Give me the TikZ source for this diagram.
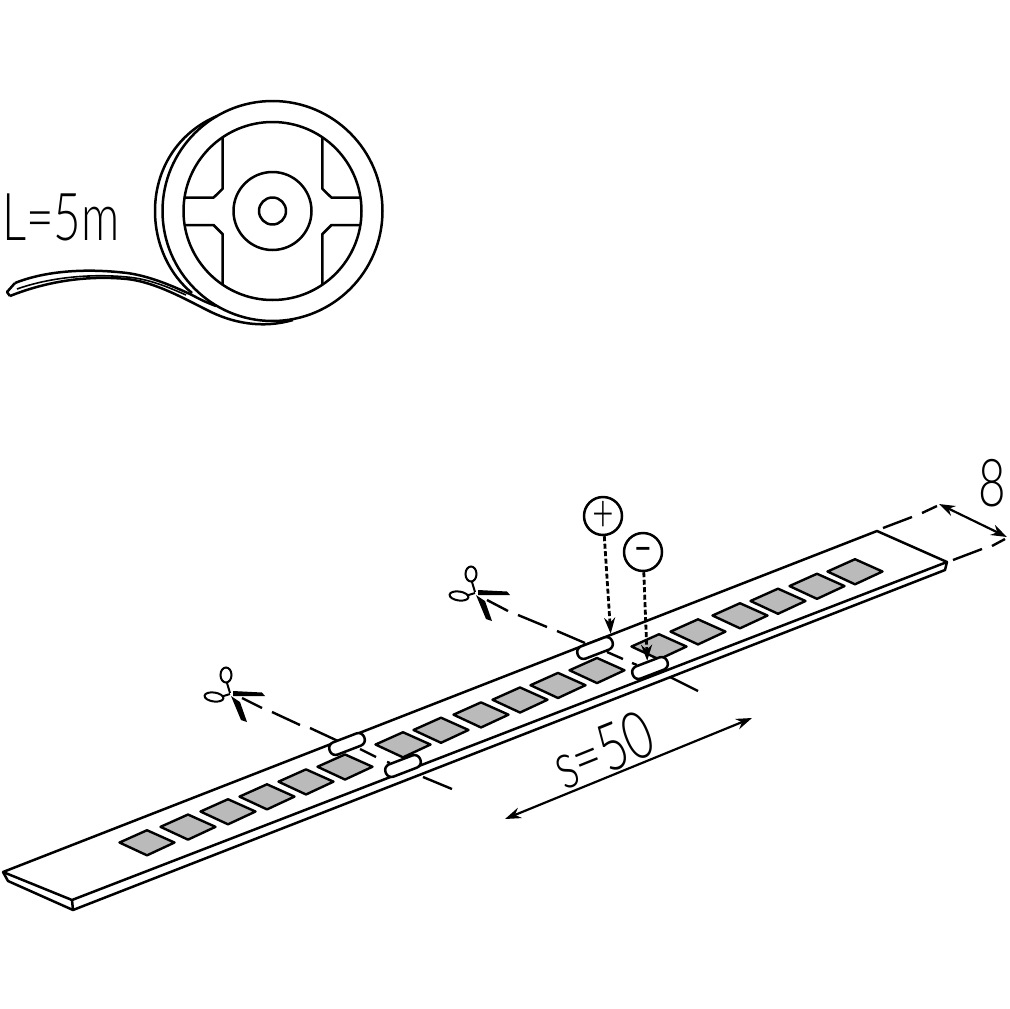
\documentclass[tikz,border=0pt]{standalone}
\usepackage{fontspec}
\setmainfont{Liberation Sans}
\newfontfamily\dimfont[UprightFont=* Light,FakeStretch=0.72]{Lato}
\usetikzlibrary{arrows.meta,positioning}
\tikzset{
  outline/.style={line width=2.5pt, line join=round},
  led/.style={line width=2.4pt, line join=round, fill=black!27},
  pad/.style={draw, line width=2.5pt, fill=white, rectangle, rounded corners=6pt, minimum width=37pt, minimum height=13pt, inner sep=0pt, rotate=21},
  polar/.style={draw, circle, line width=2.5pt, minimum size=38pt, inner sep=0pt},
  feed/.style={line width=2.8pt, dash pattern=on 5pt off 2.5pt, -{Stealth[length=16pt,width=11pt]}},
  cutline/.style={line width=2.4pt},
  dimline/.style={line width=2.2pt, {Stealth[length=16pt,width=11pt]}-{Stealth[length=16pt,width=11pt]}},
  dimtext/.style={inner sep=0pt, font=\dimfont\fontsize{66}{66}\selectfont},
  shears/.pic={
    \fill (3,-2) -- (32,-0.5) -- (35,3) -- (3,3) -- cycle;
    \fill (1,3) -- (10,9) -- (17,29) -- (11,27) -- cycle;
    \draw [line width=2pt] (0,0) -- (-3,-10);
    \draw [line width=2pt] (-4,-18) ellipse (5.5pt and 7.5pt);
    \draw [line width=2pt] (0,1) -- (-8,3.5);
    \draw [line width=2pt, rotate around={-8:(-16,4)}] (-16,4) ellipse (9.5pt and 4.5pt);
  }
}
\begin{document}
\begin{tikzpicture}[x=1pt,y=-1pt]
\useasboundingbox (0,0) rectangle (1009,1009);
% reel
\coordinate (hub) at (272.5,211);
\draw [outline] (hub) circle (110pt);
\draw [outline] (hub) circle (89pt);
\draw [outline] (hub) circle (39pt);
\draw [outline] (hub) circle (13.5pt);
\draw [outline] (222.7,137.4) -- (222.7,188.7) -- (213.5,197.7) -- (185,197.7);
\draw [outline] (322.3,137.4) -- (322.3,188.7) -- (331.5,197.7) -- (360,197.7);
\draw [outline] (222.7,284.6) -- (222.7,234.2) -- (213.5,225) -- (185,225);
\draw [outline] (322.3,284.6) -- (322.3,234.2) -- (331.5,225) -- (360,225);
% loose end of the tape
\draw [outline] (217,116) .. controls (177,133) and (155,170) .. (155,211) .. controls (155,245) and (170,275) .. (192,293);
\draw [outline, fill=white] (15,283) .. controls (45,271) and (85,268) .. (127,273) .. controls (150,276) and (175,287) .. (192,295) .. controls (203,301) and (208,303) .. (216,306);
\draw [outline] (10,296) .. controls (45,282) and (85,275) .. (127,279) .. controls (155,282) and (185,299) .. (207,310) .. controls (232,323) and (262,329) .. (293,320);
\draw [line width=1.6pt] (17,289) .. controls (45,279) and (85,273) .. (127,277) .. controls (150,279) and (170,288) .. (186,295);
\draw [outline] (15,283) -- (7,292) -- (10,296);
\node (length) [dimtext, anchor=west] at (2,217) {L=5m};
% strip
\draw [outline, fill=white] (3,872) -- (72,900) -- (947,562) -- (877,531) -- cycle;
\draw [outline] (3,872) -- (8,881) -- (73,910) -- (945,570) -- (947,562);
\draw [outline] (72,900) -- (73,910);
\foreach \ledx in {147,188,228,267,306,345,403,441,481,520,558,597,659,698,740,778,817,855}
  \draw [led] (\ledx-27.5,842.5-0.3828*\ledx+56.3) -- ++(27.5,-12.3) -- ++(27.5,12.3) -- ++(-27.5,12.8) -- cycle;
% cut lines
\foreach \cutax/\cutay/\cutbx/\cutby in {242/698/262/708, 272/712/300/725, 310/728/338/741, 360/749/376/757, 387/762/390/763, 423/777/452/789,
  487/600/508/611, 518/615/547/627, 557/631/585/643, 607/652/623/659, 632/663/637/665, 670/677/698/691}
  \draw [cutline] (\cutax,\cutay) -- (\cutbx,\cutby);
\pic at (230,693) {shears};
\pic at (475,592) {shears};
\node (pada) [pad] at (347,744) {};
\node (padb) [pad] at (403,766) {};
\node (padc) [pad] at (595,648) {};
\node (padd) [pad] at (650,668) {};
% polarity
\node (plus) [polar, font=\dimfont\fontsize{52}{52}\selectfont] at (603,516) {+};
\node (minus) [polar, font=\bfseries\fontsize{26}{26}\selectfont] at (643,552) {−};
\draw [feed] (plus) -- (padc.north east);
\draw [feed] (minus) -- (padd.north);
% dimensions
\coordinate (widthfar) at (939,504);
\coordinate (widthnear) at (1007,537);
\draw [dimline] (widthfar) -- (widthnear);
\foreach \dimax/\dimay/\dimbx/\dimby in {883/528/912/517, 922/513/937/506, 953/560/982/549, 992/546/1005/539}
  \draw [cutline] (\dimax,\dimay) -- (\dimbx,\dimby);
\node (width) [dimtext] at (992,483) {8};
\coordinate (pitchfar) at (752,718);
\coordinate (pitchnear) at (505,819);
\draw [dimline] (pitchfar) -- (pitchnear);
\node (pitch) [dimtext, rotate=22] at (603,750) {s=50};
\end{tikzpicture}
\end{document}
